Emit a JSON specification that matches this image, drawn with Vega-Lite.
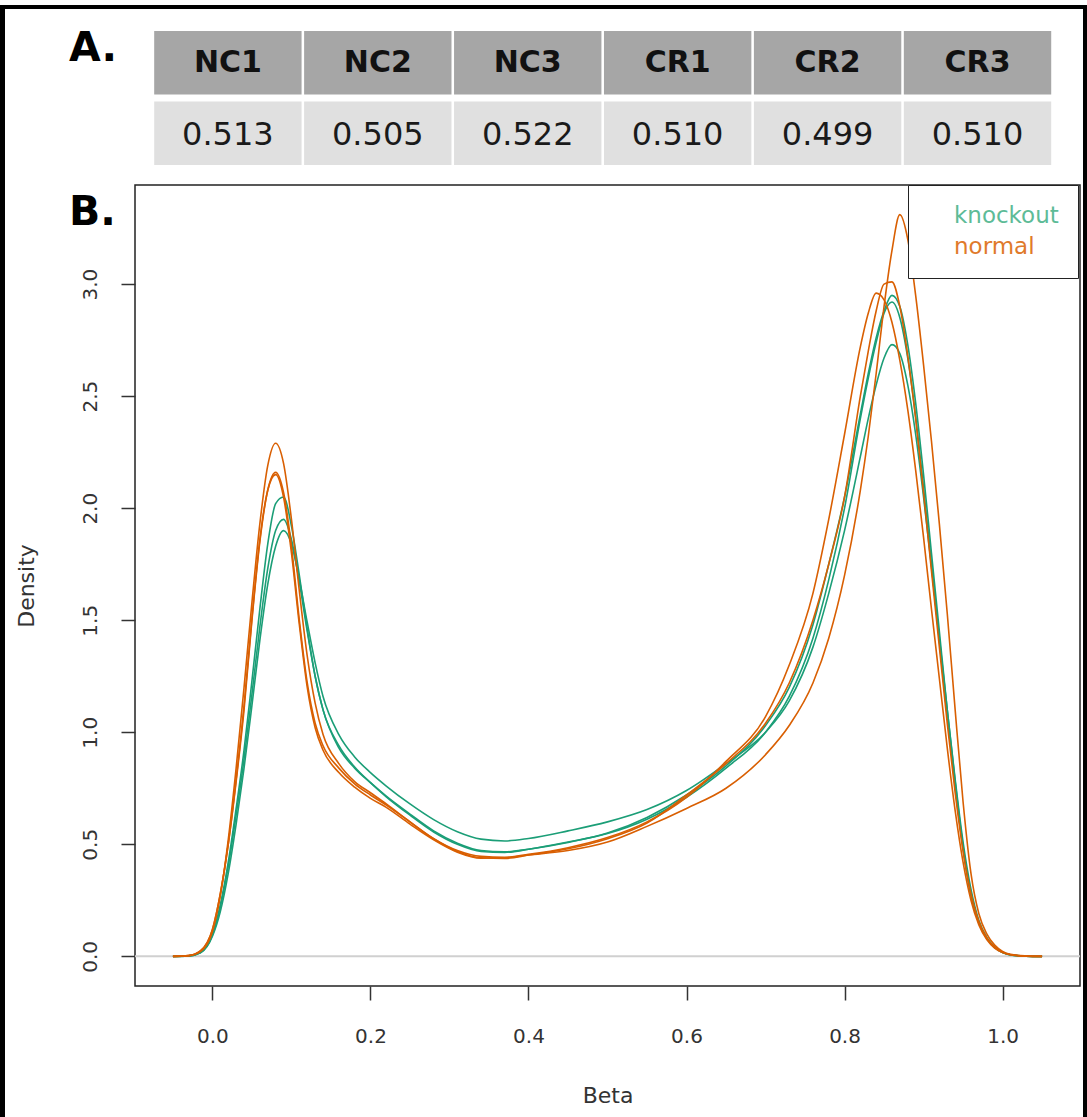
{
  "$schema": "https://vega.github.io/schema/vega-lite/v6.json",
  "background": "white",
  "padding": {"left": 0, "top": 5, "right": 0, "bottom": 0},
  "bounds": "flush",
  "spacing": 0,
  "config": {
    "view": {"stroke": null},
    "font": "DejaVu Sans",
    "axis": {
      "domain": false, "grid": false, "ticks": true, "tickColor": "#333", "tickWidth": 1.5, "tickSize": 14,
      "labelFont": "DejaVu Sans", "labelFontSize": 20, "labelColor": "#333",
      "titleFont": "DejaVu Sans", "titleFontSize": 22, "titleFontWeight": "normal", "titleColor": "#333"
    }
  },
  "vconcat": [
    {"width": 1087, "height": 4, "data": {"values": [{}]}, "mark": {"type": "rect", "color": "#000"}, "view": {"fill": "#000", "stroke": null}},
    {
      "bounds": "full",
      "spacing": 9,
      "hconcat": [
        {"width": 5, "height": 1108, "data": {"values": [{}]}, "mark": {"type": "rect", "color": "#000"}, "view": {"fill": "#000", "stroke": null}},
        {
          "bounds": "full",
          "spacing": 1,
          "hconcat": [
            {
              "bounds": "flush",
              "spacing": 20,
              "vconcat": [
                {
                  "width": 945,
                  "height": 156,
                  "view": {"fill": "white", "stroke": null},
                  "title": {"text": "A.", "anchor": "start", "frame": "group", "orient": "top", "offset": -61.2, "dx": -66, "font": "DejaVu Sans", "fontSize": 41, "fontWeight": "bold", "color": "#000"},
                  "data": {"values": [
                    {"c": "NC1", "r": "h", "t": "NC1"}, {"c": "NC2", "r": "h", "t": "NC2"}, {"c": "NC3", "r": "h", "t": "NC3"},
                    {"c": "CR1", "r": "h", "t": "CR1"}, {"c": "CR2", "r": "h", "t": "CR2"}, {"c": "CR3", "r": "h", "t": "CR3"},
                    {"c": "NC1", "r": "v", "t": "0.513"}, {"c": "NC2", "r": "v", "t": "0.505"}, {"c": "NC3", "r": "v", "t": "0.522"},
                    {"c": "CR1", "r": "v", "t": "0.510"}, {"c": "CR2", "r": "v", "t": "0.499"}, {"c": "CR3", "r": "v", "t": "0.510"}
                  ]},
                  "encoding": {
                    "x": {"field": "c", "type": "nominal", "sort": ["NC1", "NC2", "NC3", "CR1", "CR2", "CR3"], "scale": {"paddingInner": 0.017, "paddingOuter": 0.16, "align": 0.4}, "axis": null},
                    "y": {"field": "r", "type": "nominal", "sort": ["h", "v"], "scale": {"paddingInner": 0.1, "paddingOuter": 0.156, "align": 1}, "axis": null}
                  },
                  "layer": [
                    {"transform": [{"filter": "datum.r === 'h'"}], "mark": {"type": "rect", "fill": "#a6a6a6"}},
                    {"transform": [{"filter": "datum.r === 'v'"}], "mark": {"type": "rect", "fill": "#e0e0e0"}},
                    {"transform": [{"filter": "datum.r === 'h'"}], "mark": {"type": "text", "font": "DejaVu Sans", "fontSize": 30, "fontWeight": "bold", "color": "#111", "baseline": "middle"}, "encoding": {"text": {"field": "t"}}},
                    {"transform": [{"filter": "datum.r === 'v'"}], "mark": {"type": "text", "font": "DejaVu Sans", "fontSize": 32, "color": "#1a1a1a", "baseline": "middle", "dy": 2}, "encoding": {"text": {"field": "t"}}}
                  ]
                },
                {
                  "width": 945,
                  "height": 801,
                  "title": {"text": "B.", "anchor": "start", "frame": "group", "orient": "top", "offset": -48.6, "dx": -66, "font": "DejaVu Sans", "fontSize": 41, "fontWeight": "bold", "color": "#000"},
                  "view": {"stroke": "#222", "strokeWidth": 1.5},
                  "layer": [
                    {
                      "data": {"values": [{"z": 0}]},
                      "mark": {"type": "rule", "color": "#d0d0d0", "strokeWidth": 2},
                      "encoding": {"y": {"field": "z", "type": "quantitative"}}
                    },
                    {
                      "data": {"values": [
{"s":"CR1","g":"knockout","x":-0.05,"d":0},{"s":"CR1","g":"knockout","x":-0.03,"d":0.002},{"s":"CR1","g":"knockout","x":-0.015,"d":0.018},{"s":"CR1","g":"knockout","x":0,"d":0.1},{"s":"CR1","g":"knockout","x":0.01,"d":0.23},{"s":"CR1","g":"knockout","x":0.02,"d":0.42},{"s":"CR1","g":"knockout","x":0.03,"d":0.66},{"s":"CR1","g":"knockout","x":0.04,"d":0.92},{"s":"CR1","g":"knockout","x":0.05,"d":1.23},{"s":"CR1","g":"knockout","x":0.06,"d":1.55},{"s":"CR1","g":"knockout","x":0.07,"d":1.84},{"s":"CR1","g":"knockout","x":0.08,"d":2.02},{"s":"CR1","g":"knockout","x":0.09,"d":2.05},{"s":"CR1","g":"knockout","x":0.1,"d":1.92},{"s":"CR1","g":"knockout","x":0.11,"d":1.7},{"s":"CR1","g":"knockout","x":0.12,"d":1.46},{"s":"CR1","g":"knockout","x":0.13,"d":1.25},{"s":"CR1","g":"knockout","x":0.14,"d":1.1},{"s":"CR1","g":"knockout","x":0.16,"d":0.93},{"s":"CR1","g":"knockout","x":0.18,"d":0.84},{"s":"CR1","g":"knockout","x":0.2,"d":0.775},{"s":"CR1","g":"knockout","x":0.22,"d":0.715},{"s":"CR1","g":"knockout","x":0.25,"d":0.635},{"s":"CR1","g":"knockout","x":0.28,"d":0.56},{"s":"CR1","g":"knockout","x":0.31,"d":0.505},{"s":"CR1","g":"knockout","x":0.34,"d":0.472},{"s":"CR1","g":"knockout","x":0.37,"d":0.466},{"s":"CR1","g":"knockout","x":0.4,"d":0.478},{"s":"CR1","g":"knockout","x":0.45,"d":0.508},{"s":"CR1","g":"knockout","x":0.5,"d":0.55},{"s":"CR1","g":"knockout","x":0.55,"d":0.62},{"s":"CR1","g":"knockout","x":0.6,"d":0.72},{"s":"CR1","g":"knockout","x":0.65,"d":0.85},{"s":"CR1","g":"knockout","x":0.7,"d":1.03},{"s":"CR1","g":"knockout","x":0.73,"d":1.2},{"s":"CR1","g":"knockout","x":0.76,"d":1.48},{"s":"CR1","g":"knockout","x":0.78,"d":1.75},{"s":"CR1","g":"knockout","x":0.8,"d":2.05},{"s":"CR1","g":"knockout","x":0.82,"d":2.42},{"s":"CR1","g":"knockout","x":0.83,"d":2.6},{"s":"CR1","g":"knockout","x":0.84,"d":2.76},{"s":"CR1","g":"knockout","x":0.85,"d":2.88},{"s":"CR1","g":"knockout","x":0.86,"d":2.95},{"s":"CR1","g":"knockout","x":0.87,"d":2.9},{"s":"CR1","g":"knockout","x":0.88,"d":2.73},{"s":"CR1","g":"knockout","x":0.89,"d":2.47},{"s":"CR1","g":"knockout","x":0.9,"d":2.15},{"s":"CR1","g":"knockout","x":0.91,"d":1.8},{"s":"CR1","g":"knockout","x":0.92,"d":1.45},{"s":"CR1","g":"knockout","x":0.93,"d":1.1},{"s":"CR1","g":"knockout","x":0.94,"d":0.78},{"s":"CR1","g":"knockout","x":0.95,"d":0.49},{"s":"CR1","g":"knockout","x":0.96,"d":0.28},{"s":"CR1","g":"knockout","x":0.97,"d":0.15},{"s":"CR1","g":"knockout","x":0.98,"d":0.08},{"s":"CR1","g":"knockout","x":0.99,"d":0.04},{"s":"CR1","g":"knockout","x":1.0,"d":0.017},{"s":"CR1","g":"knockout","x":1.01,"d":0.006},{"s":"CR1","g":"knockout","x":1.03,"d":0.001},{"s":"CR1","g":"knockout","x":1.05,"d":0},
{"s":"CR2","g":"knockout","x":-0.05,"d":0},{"s":"CR2","g":"knockout","x":-0.03,"d":0.002},{"s":"CR2","g":"knockout","x":-0.015,"d":0.017},{"s":"CR2","g":"knockout","x":0,"d":0.095},{"s":"CR2","g":"knockout","x":0.01,"d":0.22},{"s":"CR2","g":"knockout","x":0.02,"d":0.4},{"s":"CR2","g":"knockout","x":0.03,"d":0.63},{"s":"CR2","g":"knockout","x":0.04,"d":0.88},{"s":"CR2","g":"knockout","x":0.05,"d":1.17},{"s":"CR2","g":"knockout","x":0.06,"d":1.47},{"s":"CR2","g":"knockout","x":0.07,"d":1.73},{"s":"CR2","g":"knockout","x":0.08,"d":1.9},{"s":"CR2","g":"knockout","x":0.09,"d":1.95},{"s":"CR2","g":"knockout","x":0.1,"d":1.86},{"s":"CR2","g":"knockout","x":0.11,"d":1.67},{"s":"CR2","g":"knockout","x":0.12,"d":1.45},{"s":"CR2","g":"knockout","x":0.13,"d":1.25},{"s":"CR2","g":"knockout","x":0.14,"d":1.1},{"s":"CR2","g":"knockout","x":0.16,"d":0.94},{"s":"CR2","g":"knockout","x":0.18,"d":0.845},{"s":"CR2","g":"knockout","x":0.2,"d":0.775},{"s":"CR2","g":"knockout","x":0.22,"d":0.712},{"s":"CR2","g":"knockout","x":0.25,"d":0.63},{"s":"CR2","g":"knockout","x":0.28,"d":0.555},{"s":"CR2","g":"knockout","x":0.31,"d":0.5},{"s":"CR2","g":"knockout","x":0.34,"d":0.468},{"s":"CR2","g":"knockout","x":0.37,"d":0.464},{"s":"CR2","g":"knockout","x":0.4,"d":0.478},{"s":"CR2","g":"knockout","x":0.45,"d":0.51},{"s":"CR2","g":"knockout","x":0.5,"d":0.548},{"s":"CR2","g":"knockout","x":0.55,"d":0.612},{"s":"CR2","g":"knockout","x":0.6,"d":0.71},{"s":"CR2","g":"knockout","x":0.65,"d":0.84},{"s":"CR2","g":"knockout","x":0.7,"d":1.0},{"s":"CR2","g":"knockout","x":0.73,"d":1.16},{"s":"CR2","g":"knockout","x":0.76,"d":1.42},{"s":"CR2","g":"knockout","x":0.78,"d":1.68},{"s":"CR2","g":"knockout","x":0.8,"d":2.0},{"s":"CR2","g":"knockout","x":0.82,"d":2.4},{"s":"CR2","g":"knockout","x":0.83,"d":2.58},{"s":"CR2","g":"knockout","x":0.84,"d":2.74},{"s":"CR2","g":"knockout","x":0.85,"d":2.87},{"s":"CR2","g":"knockout","x":0.86,"d":2.92},{"s":"CR2","g":"knockout","x":0.87,"d":2.85},{"s":"CR2","g":"knockout","x":0.88,"d":2.67},{"s":"CR2","g":"knockout","x":0.89,"d":2.41},{"s":"CR2","g":"knockout","x":0.9,"d":2.09},{"s":"CR2","g":"knockout","x":0.91,"d":1.75},{"s":"CR2","g":"knockout","x":0.92,"d":1.41},{"s":"CR2","g":"knockout","x":0.93,"d":1.07},{"s":"CR2","g":"knockout","x":0.94,"d":0.76},{"s":"CR2","g":"knockout","x":0.95,"d":0.48},{"s":"CR2","g":"knockout","x":0.96,"d":0.27},{"s":"CR2","g":"knockout","x":0.97,"d":0.15},{"s":"CR2","g":"knockout","x":0.98,"d":0.08},{"s":"CR2","g":"knockout","x":0.99,"d":0.04},{"s":"CR2","g":"knockout","x":1.0,"d":0.017},{"s":"CR2","g":"knockout","x":1.01,"d":0.006},{"s":"CR2","g":"knockout","x":1.03,"d":0.001},{"s":"CR2","g":"knockout","x":1.05,"d":0},
{"s":"CR3","g":"knockout","x":-0.05,"d":0},{"s":"CR3","g":"knockout","x":-0.03,"d":0.002},{"s":"CR3","g":"knockout","x":-0.015,"d":0.016},{"s":"CR3","g":"knockout","x":0,"d":0.09},{"s":"CR3","g":"knockout","x":0.01,"d":0.2},{"s":"CR3","g":"knockout","x":0.02,"d":0.37},{"s":"CR3","g":"knockout","x":0.03,"d":0.59},{"s":"CR3","g":"knockout","x":0.04,"d":0.84},{"s":"CR3","g":"knockout","x":0.05,"d":1.12},{"s":"CR3","g":"knockout","x":0.06,"d":1.41},{"s":"CR3","g":"knockout","x":0.07,"d":1.66},{"s":"CR3","g":"knockout","x":0.08,"d":1.83},{"s":"CR3","g":"knockout","x":0.09,"d":1.9},{"s":"CR3","g":"knockout","x":0.1,"d":1.84},{"s":"CR3","g":"knockout","x":0.11,"d":1.68},{"s":"CR3","g":"knockout","x":0.12,"d":1.49},{"s":"CR3","g":"knockout","x":0.13,"d":1.31},{"s":"CR3","g":"knockout","x":0.14,"d":1.16},{"s":"CR3","g":"knockout","x":0.16,"d":0.99},{"s":"CR3","g":"knockout","x":0.18,"d":0.89},{"s":"CR3","g":"knockout","x":0.2,"d":0.82},{"s":"CR3","g":"knockout","x":0.22,"d":0.76},{"s":"CR3","g":"knockout","x":0.25,"d":0.68},{"s":"CR3","g":"knockout","x":0.28,"d":0.61},{"s":"CR3","g":"knockout","x":0.31,"d":0.556},{"s":"CR3","g":"knockout","x":0.34,"d":0.523},{"s":"CR3","g":"knockout","x":0.37,"d":0.515},{"s":"CR3","g":"knockout","x":0.4,"d":0.526},{"s":"CR3","g":"knockout","x":0.45,"d":0.56},{"s":"CR3","g":"knockout","x":0.5,"d":0.6},{"s":"CR3","g":"knockout","x":0.55,"d":0.655},{"s":"CR3","g":"knockout","x":0.6,"d":0.74},{"s":"CR3","g":"knockout","x":0.65,"d":0.86},{"s":"CR3","g":"knockout","x":0.7,"d":1.0},{"s":"CR3","g":"knockout","x":0.73,"d":1.14},{"s":"CR3","g":"knockout","x":0.76,"d":1.38},{"s":"CR3","g":"knockout","x":0.78,"d":1.62},{"s":"CR3","g":"knockout","x":0.8,"d":1.9},{"s":"CR3","g":"knockout","x":0.82,"d":2.23},{"s":"CR3","g":"knockout","x":0.83,"d":2.4},{"s":"CR3","g":"knockout","x":0.84,"d":2.55},{"s":"CR3","g":"knockout","x":0.85,"d":2.67},{"s":"CR3","g":"knockout","x":0.86,"d":2.73},{"s":"CR3","g":"knockout","x":0.87,"d":2.69},{"s":"CR3","g":"knockout","x":0.88,"d":2.55},{"s":"CR3","g":"knockout","x":0.89,"d":2.33},{"s":"CR3","g":"knockout","x":0.9,"d":2.05},{"s":"CR3","g":"knockout","x":0.91,"d":1.74},{"s":"CR3","g":"knockout","x":0.92,"d":1.42},{"s":"CR3","g":"knockout","x":0.93,"d":1.1},{"s":"CR3","g":"knockout","x":0.94,"d":0.79},{"s":"CR3","g":"knockout","x":0.95,"d":0.51},{"s":"CR3","g":"knockout","x":0.96,"d":0.3},{"s":"CR3","g":"knockout","x":0.97,"d":0.16},{"s":"CR3","g":"knockout","x":0.98,"d":0.085},{"s":"CR3","g":"knockout","x":0.99,"d":0.042},{"s":"CR3","g":"knockout","x":1.0,"d":0.019},{"s":"CR3","g":"knockout","x":1.01,"d":0.007},{"s":"CR3","g":"knockout","x":1.03,"d":0.001},{"s":"CR3","g":"knockout","x":1.05,"d":0},
{"s":"NC1","g":"normal","x":-0.05,"d":0},{"s":"NC1","g":"normal","x":-0.03,"d":0.003},{"s":"NC1","g":"normal","x":-0.015,"d":0.022},{"s":"NC1","g":"normal","x":0,"d":0.11},{"s":"NC1","g":"normal","x":0.01,"d":0.27},{"s":"NC1","g":"normal","x":0.02,"d":0.52},{"s":"NC1","g":"normal","x":0.03,"d":0.84},{"s":"NC1","g":"normal","x":0.04,"d":1.2},{"s":"NC1","g":"normal","x":0.05,"d":1.58},{"s":"NC1","g":"normal","x":0.06,"d":1.93},{"s":"NC1","g":"normal","x":0.07,"d":2.19},{"s":"NC1","g":"normal","x":0.08,"d":2.29},{"s":"NC1","g":"normal","x":0.09,"d":2.2},{"s":"NC1","g":"normal","x":0.1,"d":1.95},{"s":"NC1","g":"normal","x":0.11,"d":1.63},{"s":"NC1","g":"normal","x":0.12,"d":1.34},{"s":"NC1","g":"normal","x":0.13,"d":1.13},{"s":"NC1","g":"normal","x":0.14,"d":0.99},{"s":"NC1","g":"normal","x":0.16,"d":0.86},{"s":"NC1","g":"normal","x":0.18,"d":0.78},{"s":"NC1","g":"normal","x":0.2,"d":0.73},{"s":"NC1","g":"normal","x":0.22,"d":0.68},{"s":"NC1","g":"normal","x":0.25,"d":0.6},{"s":"NC1","g":"normal","x":0.28,"d":0.525},{"s":"NC1","g":"normal","x":0.31,"d":0.472},{"s":"NC1","g":"normal","x":0.34,"d":0.446},{"s":"NC1","g":"normal","x":0.37,"d":0.442},{"s":"NC1","g":"normal","x":0.4,"d":0.455},{"s":"NC1","g":"normal","x":0.45,"d":0.485},{"s":"NC1","g":"normal","x":0.5,"d":0.53},{"s":"NC1","g":"normal","x":0.55,"d":0.6},{"s":"NC1","g":"normal","x":0.6,"d":0.71},{"s":"NC1","g":"normal","x":0.65,"d":0.87},{"s":"NC1","g":"normal","x":0.7,"d":1.07},{"s":"NC1","g":"normal","x":0.73,"d":1.3},{"s":"NC1","g":"normal","x":0.76,"d":1.62},{"s":"NC1","g":"normal","x":0.78,"d":1.95},{"s":"NC1","g":"normal","x":0.8,"d":2.33},{"s":"NC1","g":"normal","x":0.82,"d":2.72},{"s":"NC1","g":"normal","x":0.83,"d":2.87},{"s":"NC1","g":"normal","x":0.84,"d":2.96},{"s":"NC1","g":"normal","x":0.85,"d":2.93},{"s":"NC1","g":"normal","x":0.86,"d":2.83},{"s":"NC1","g":"normal","x":0.87,"d":2.66},{"s":"NC1","g":"normal","x":0.88,"d":2.44},{"s":"NC1","g":"normal","x":0.89,"d":2.17},{"s":"NC1","g":"normal","x":0.9,"d":1.87},{"s":"NC1","g":"normal","x":0.91,"d":1.55},{"s":"NC1","g":"normal","x":0.92,"d":1.24},{"s":"NC1","g":"normal","x":0.93,"d":0.93},{"s":"NC1","g":"normal","x":0.94,"d":0.65},{"s":"NC1","g":"normal","x":0.95,"d":0.42},{"s":"NC1","g":"normal","x":0.96,"d":0.25},{"s":"NC1","g":"normal","x":0.97,"d":0.14},{"s":"NC1","g":"normal","x":0.98,"d":0.075},{"s":"NC1","g":"normal","x":0.99,"d":0.037},{"s":"NC1","g":"normal","x":1.0,"d":0.017},{"s":"NC1","g":"normal","x":1.01,"d":0.007},{"s":"NC1","g":"normal","x":1.03,"d":0.001},{"s":"NC1","g":"normal","x":1.05,"d":0},
{"s":"NC2","g":"normal","x":-0.05,"d":0},{"s":"NC2","g":"normal","x":-0.03,"d":0.003},{"s":"NC2","g":"normal","x":-0.015,"d":0.025},{"s":"NC2","g":"normal","x":0,"d":0.12},{"s":"NC2","g":"normal","x":0.01,"d":0.28},{"s":"NC2","g":"normal","x":0.02,"d":0.5},{"s":"NC2","g":"normal","x":0.03,"d":0.78},{"s":"NC2","g":"normal","x":0.04,"d":1.1},{"s":"NC2","g":"normal","x":0.05,"d":1.5},{"s":"NC2","g":"normal","x":0.06,"d":1.85},{"s":"NC2","g":"normal","x":0.07,"d":2.08},{"s":"NC2","g":"normal","x":0.08,"d":2.16},{"s":"NC2","g":"normal","x":0.09,"d":2.07},{"s":"NC2","g":"normal","x":0.1,"d":1.83},{"s":"NC2","g":"normal","x":0.11,"d":1.5},{"s":"NC2","g":"normal","x":0.12,"d":1.22},{"s":"NC2","g":"normal","x":0.13,"d":1.04},{"s":"NC2","g":"normal","x":0.14,"d":0.94},{"s":"NC2","g":"normal","x":0.16,"d":0.84},{"s":"NC2","g":"normal","x":0.18,"d":0.77},{"s":"NC2","g":"normal","x":0.2,"d":0.72},{"s":"NC2","g":"normal","x":0.22,"d":0.675},{"s":"NC2","g":"normal","x":0.25,"d":0.6},{"s":"NC2","g":"normal","x":0.28,"d":0.525},{"s":"NC2","g":"normal","x":0.31,"d":0.468},{"s":"NC2","g":"normal","x":0.34,"d":0.44},{"s":"NC2","g":"normal","x":0.37,"d":0.437},{"s":"NC2","g":"normal","x":0.4,"d":0.452},{"s":"NC2","g":"normal","x":0.45,"d":0.48},{"s":"NC2","g":"normal","x":0.5,"d":0.525},{"s":"NC2","g":"normal","x":0.55,"d":0.595},{"s":"NC2","g":"normal","x":0.6,"d":0.72},{"s":"NC2","g":"normal","x":0.65,"d":0.86},{"s":"NC2","g":"normal","x":0.7,"d":1.04},{"s":"NC2","g":"normal","x":0.73,"d":1.22},{"s":"NC2","g":"normal","x":0.76,"d":1.5},{"s":"NC2","g":"normal","x":0.78,"d":1.75},{"s":"NC2","g":"normal","x":0.8,"d":2.05},{"s":"NC2","g":"normal","x":0.82,"d":2.5},{"s":"NC2","g":"normal","x":0.83,"d":2.7},{"s":"NC2","g":"normal","x":0.84,"d":2.88},{"s":"NC2","g":"normal","x":0.85,"d":3.0},{"s":"NC2","g":"normal","x":0.86,"d":3.01},{"s":"NC2","g":"normal","x":0.87,"d":2.9},{"s":"NC2","g":"normal","x":0.88,"d":2.68},{"s":"NC2","g":"normal","x":0.89,"d":2.4},{"s":"NC2","g":"normal","x":0.9,"d":2.07},{"s":"NC2","g":"normal","x":0.91,"d":1.72},{"s":"NC2","g":"normal","x":0.92,"d":1.38},{"s":"NC2","g":"normal","x":0.93,"d":1.04},{"s":"NC2","g":"normal","x":0.94,"d":0.73},{"s":"NC2","g":"normal","x":0.95,"d":0.47},{"s":"NC2","g":"normal","x":0.96,"d":0.28},{"s":"NC2","g":"normal","x":0.97,"d":0.155},{"s":"NC2","g":"normal","x":0.98,"d":0.082},{"s":"NC2","g":"normal","x":0.99,"d":0.04},{"s":"NC2","g":"normal","x":1.0,"d":0.018},{"s":"NC2","g":"normal","x":1.01,"d":0.007},{"s":"NC2","g":"normal","x":1.03,"d":0.001},{"s":"NC2","g":"normal","x":1.05,"d":0},
{"s":"NC3","g":"normal","x":-0.05,"d":0},{"s":"NC3","g":"normal","x":-0.03,"d":0.003},{"s":"NC3","g":"normal","x":-0.015,"d":0.024},{"s":"NC3","g":"normal","x":0,"d":0.12},{"s":"NC3","g":"normal","x":0.01,"d":0.28},{"s":"NC3","g":"normal","x":0.02,"d":0.5},{"s":"NC3","g":"normal","x":0.03,"d":0.79},{"s":"NC3","g":"normal","x":0.04,"d":1.12},{"s":"NC3","g":"normal","x":0.05,"d":1.51},{"s":"NC3","g":"normal","x":0.06,"d":1.86},{"s":"NC3","g":"normal","x":0.07,"d":2.08},{"s":"NC3","g":"normal","x":0.08,"d":2.15},{"s":"NC3","g":"normal","x":0.09,"d":2.05},{"s":"NC3","g":"normal","x":0.1,"d":1.8},{"s":"NC3","g":"normal","x":0.11,"d":1.48},{"s":"NC3","g":"normal","x":0.12,"d":1.2},{"s":"NC3","g":"normal","x":0.13,"d":1.02},{"s":"NC3","g":"normal","x":0.14,"d":0.92},{"s":"NC3","g":"normal","x":0.16,"d":0.82},{"s":"NC3","g":"normal","x":0.18,"d":0.755},{"s":"NC3","g":"normal","x":0.2,"d":0.705},{"s":"NC3","g":"normal","x":0.22,"d":0.665},{"s":"NC3","g":"normal","x":0.25,"d":0.59},{"s":"NC3","g":"normal","x":0.28,"d":0.52},{"s":"NC3","g":"normal","x":0.31,"d":0.465},{"s":"NC3","g":"normal","x":0.34,"d":0.438},{"s":"NC3","g":"normal","x":0.37,"d":0.44},{"s":"NC3","g":"normal","x":0.4,"d":0.452},{"s":"NC3","g":"normal","x":0.45,"d":0.472},{"s":"NC3","g":"normal","x":0.5,"d":0.51},{"s":"NC3","g":"normal","x":0.55,"d":0.58},{"s":"NC3","g":"normal","x":0.6,"d":0.66},{"s":"NC3","g":"normal","x":0.65,"d":0.75},{"s":"NC3","g":"normal","x":0.7,"d":0.9},{"s":"NC3","g":"normal","x":0.73,"d":1.03},{"s":"NC3","g":"normal","x":0.76,"d":1.22},{"s":"NC3","g":"normal","x":0.78,"d":1.42},{"s":"NC3","g":"normal","x":0.8,"d":1.7},{"s":"NC3","g":"normal","x":0.82,"d":2.08},{"s":"NC3","g":"normal","x":0.83,"d":2.32},{"s":"NC3","g":"normal","x":0.84,"d":2.6},{"s":"NC3","g":"normal","x":0.85,"d":2.9},{"s":"NC3","g":"normal","x":0.86,"d":3.15},{"s":"NC3","g":"normal","x":0.87,"d":3.31},{"s":"NC3","g":"normal","x":0.88,"d":3.2},{"s":"NC3","g":"normal","x":0.89,"d":2.95},{"s":"NC3","g":"normal","x":0.9,"d":2.64},{"s":"NC3","g":"normal","x":0.91,"d":2.3},{"s":"NC3","g":"normal","x":0.92,"d":1.93},{"s":"NC3","g":"normal","x":0.93,"d":1.53},{"s":"NC3","g":"normal","x":0.94,"d":1.1},{"s":"NC3","g":"normal","x":0.95,"d":0.69},{"s":"NC3","g":"normal","x":0.96,"d":0.37},{"s":"NC3","g":"normal","x":0.97,"d":0.19},{"s":"NC3","g":"normal","x":0.98,"d":0.1},{"s":"NC3","g":"normal","x":0.99,"d":0.05},{"s":"NC3","g":"normal","x":1.0,"d":0.022},{"s":"NC3","g":"normal","x":1.01,"d":0.009},{"s":"NC3","g":"normal","x":1.03,"d":0.002},{"s":"NC3","g":"normal","x":1.05,"d":0}
                      ]},
                      "mark": {"type": "line", "strokeWidth": 1.6, "interpolate": "monotone", "clip": true},
                      "encoding": {
                        "x": {"field": "x", "type": "quantitative",
                              "scale": {"domain": [-0.098, 1.098], "nice": false, "zero": false},
                              "axis": {"values": [0, 0.2, 0.4, 0.6, 0.8, 1.0], "format": ".1f", "title": "Beta", "labelBaseline": "alphabetic", "labelPadding": 42, "titleX": 472.5, "titleY": 116, "titleBaseline": "alphabetic", "titleAlign": "center"}},
                        "y": {"field": "d", "type": "quantitative",
                              "scale": {"domain": [-0.1324, 3.4424], "nice": false, "zero": false},
                              "axis": {"values": [0, 0.5, 1, 1.5, 2, 2.5, 3], "format": ".1f", "title": "Density", "labelAngle": 270, "labelAlign": "center", "labelBaseline": "alphabetic", "labelPadding": 25, "titleAngle": 270, "titleX": -102, "titleY": 400.5, "titleAlign": "center", "titleBaseline": "alphabetic"}},
                        "color": {"field": "g", "type": "nominal",
                                  "scale": {"domain": ["knockout", "normal"], "range": ["#1b9e77", "#d95f02"]},
                                  "legend": {"title": null, "orient": "none", "legendX": 908, "legendY": 180, "direction": "vertical",
                                             "strokeColor": "#222", "fillColor": "white", "padding": 19,
                                             "symbolSize": 0, "symbolOpacity": 0, "symbolStrokeWidth": 0, "labelOffset": 4,
                                             "labelFont": "DejaVu Sans", "labelFontSize": 23, "rowPadding": 7, "labelLimit": 300,
                                             "encode": {"labels": {"update": {"fill": [{"test": "datum.value === 'knockout'", "value": "#5dbb97"}, {"value": "#e07a2b"}]}}}}},
                        "detail": {"field": "s", "type": "nominal"}
                      }
                    }
                  ]
                }
              ]
            },
            {"width": 5, "height": 1108, "data": {"values": [{}]}, "mark": {"type": "rect", "color": "#000"}, "view": {"fill": "#000", "stroke": null}}
          ]
        }
      ]
    }
  ]
}
